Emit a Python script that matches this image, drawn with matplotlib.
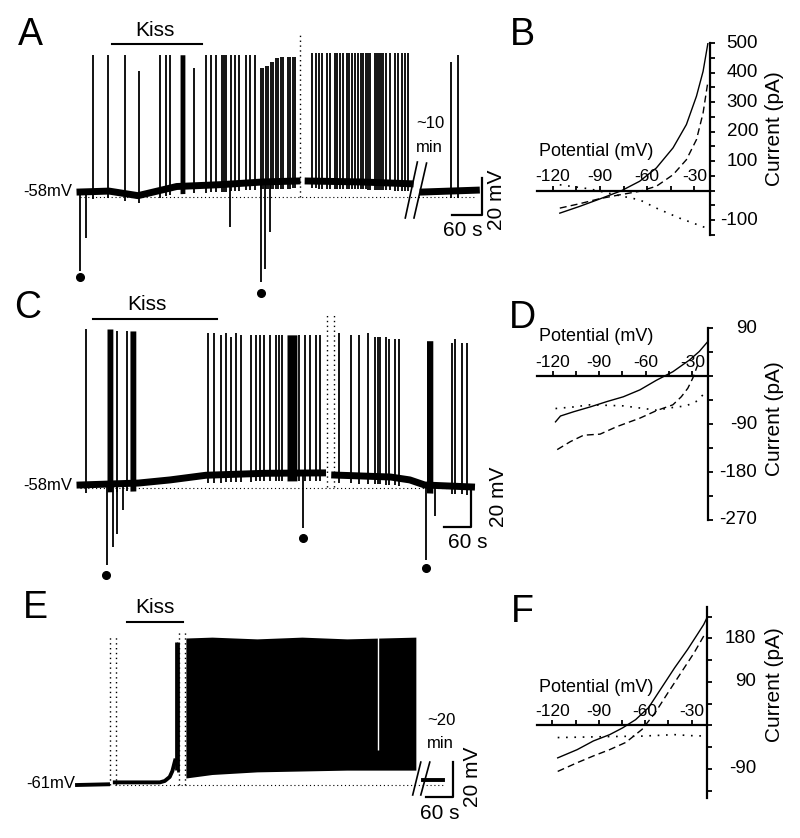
import numpy as np
import matplotlib
matplotlib.use('Agg')
import matplotlib.pyplot as plt
from matplotlib.ticker import MultipleLocator

plt.rcParams['font.family'] = ['Liberation Sans', 'DejaVu Sans']
plt.rcParams['axes.unicode_minus'] = False

# ---------------- trace data (time in s, membrane potential in mV) ----------------
# A
A_base1_t = [0, 60, 120, 200, 290, 380, 449]
A_base1_v = [-58, -57.5, -60, -55, -54, -52.5, -52]
A_base2_t = [472, 580, 683]
A_base2_v = [-52, -52.5, -53.5]
A_base3_t = [710, 820]
A_base3_v = [-58, -57]
A_spike_t = [27, 58, 93, 122, 166, 178, 186, 236, 261, 271, 282, 294, 298, 302, 313, 321,
             329, 344, 352, 362, 375, 379, 385, 389, 395, 400, 406, 410, 416, 420, 431, 435,
             441, 445,
             480, 489, 495, 501, 511, 518, 528, 532, 538, 544, 553, 557, 563, 569, 575, 582,
             586, 592, 596, 600, 611, 615, 619, 623, 627, 633, 642, 652, 658, 667, 673, 679,
             768, 782]
A_spike_v = [17, 17, 17, 8, 17, 17, 17, 10, 17, 17, 17, 17, 17, 17, 17, 17,
             17, 17, 17, 17, 10, 10, 11, 11, 13, 13, 15, 15, 16, 16, 16, 16,
             16, 16,
             18, 18, 18, 18, 18, 18, 18, 18, 18, 18, 18, 18, 18, 18, 18, 18,
             18, 18, 18, 18, 18, 18, 18, 18, 18, 18, 18, 18, 18, 18, 18, 18,
             13, 17]
A_burst_t0 = [207]
A_burst_t1 = [217]
A_burst_v = [17]
A_down_t = [0, 12, 311, 375, 383, 393]
A_down_v = [-101, -83, -77, -107, -100, -80]
A_dot_t = [0, 375]
A_dot_v = [-104.5, -113]
A_kiss = (66, 253)

# C
C_base1_t = [0, 130, 200, 280, 410, 539]
C_base1_v = [-58, -57, -55.4, -53, -52, -51.8]
C_base2_t = [566, 690, 733, 766, 870]
C_base2_v = [-52.9, -53.9, -55.4, -58, -59]
C_spike_t = [13, 82, 104, 284, 297, 313, 324, 335, 346, 357, 380, 391, 400, 408, 422, 435,
             442, 448, 486, 500, 511, 524, 533,
             575, 602, 619, 639, 655, 662, 666, 679, 686, 699, 710,
             826, 833, 848, 859]
C_spike_v = [22, 21, 21, 20, 20, 19, 20, 18, 20, 19, 19, 19, 19, 19, 19, 19,
             19, 19, 19, 19, 19, 19, 19,
             20, 19, 19, 20, 18, 18, 18, 18, 17, 17, 17,
             15, 17, 15, 15]
C_burst_t0 = [60, 111, 460, 770]
C_burst_t1 = [73, 124, 482, 784]
C_burst_v = [22, 21, 19, 16]
C_down_t = [60, 73, 82, 95, 495, 768, 788]
C_down_v = [-99, -90, -83, -71, -80, -96.5, -74]
C_dot_t = [58, 495, 768]
C_dot_v = [-104, -85, -100.5]
C_kiss = (29, 304)

# E
E_base1_t = [0, 69]
E_base1_v = [-61, -60.6]
E_base2_t = [84, 184, 195, 206, 212, 218]
E_base2_v = [-59.5, -59.5, -58.7, -56.4, -53, -47]
E_base4_t = [768, 813]
E_base4_v = [-58, -58]
E_spike_t = [221, 224]
E_spike_v = [20.7, 20.7]
E_block_t = [242, 300, 400, 500, 600, 753]
E_block_low = [-57, -55, -53.5, -53, -52.5, -52.5]
E_block_high = [23, 23.5, 22.5, 23.5, 22.5, 23.5]
E_gap_t = 668
E_kiss = (111, 235)

# ---------------- I-V data (potential mV, current pA) ----------------
B_solid_V = [-115.5, -102.8, -90.1, -76.3, -64.7, -54.1, -43.5, -35, -28.6, -24.4, -21.3]
B_solid_I = [-76, -53, -28, 0, 32, 77, 145, 224, 320, 404, 500]
B_dash_V = [-115.5, -102.8, -90.1, -77.4, -64.7, -54.1, -43.5, -35, -28.6, -24.4, -21.3]
B_dash_I = [-59, -44, -27, -14, -2, 15, 54, 105, 173, 263, 370]
B_dot_V = [-115.5, -96.4, -77.4, -64.7, -54.1, -39.3, -22.4]
B_dot_I = [20, 6, -17, -31, -59, -93, -126]

D_solid_V = [-118.1, -114.9, -106.4, -95.8, -85.1, -74.5, -63.8, -53.2, -42.6, -31.9, -25.6, -20.3]
D_solid_I = [-86, -75, -67, -58, -48, -39, -26, -8, 8, 30, 46, 64]
D_dash_V = [-117, -108.5, -100, -89.4, -78.7, -63.8, -53.2, -42.6, -37.2, -33, -29.8, -26.6]
D_dash_I = [-138, -123, -111, -109, -95, -79, -65, -54, -39, -23, -4, 21]
D_dot_V = [-118.1, -106.4, -95.8, -74.5, -53.2, -42.6, -34.1, -27.7, -22.4]
D_dot_I = [-61, -58, -54, -56, -64, -59, -56, -48, -33]

F_solid_V = [-116.6, -104, -93.5, -83, -74.6, -66.2, -57.8, -49.4, -41, -32.6, -26.3, -22.1, -20]
F_solid_I = [-67, -50, -32, -19, -5, 12, 37, 78, 119, 157, 188, 209, 223]
F_dash_V = [-116.6, -104, -93.5, -83, -72.5, -62, -53.6, -45.2, -36.8, -28.4, -22.1]
F_dash_I = [-95, -77, -63, -50, -35, -8, 26, 68, 109, 150, 185]
F_dot_V = [-116.6, -83, -62, -41, -30.5, -20]
F_dot_I = [-25, -23, -22, -19, -21, -22]

W, H = 800, 838
fig = plt.figure(figsize=(W / 100, H / 100), dpi=100)


def txt(x, y, s, size, **kw):
    fig.text(x / W, 1 - y / H, s, ha=kw.pop('ha', 'center'), va=kw.pop('va', 'center'),
             fontsize=size, **kw)


def trace_axes(box, x0, y0, v0, s_px, px_mv):
    l, t, r, b = box
    ax = fig.add_axes([l / W, 1 - b / H, (r - l) / W, (b - t) / H])
    ax.set_xlim((l - x0) * s_px, (r - x0) * s_px)
    ax.set_ylim(v0 - (b - y0) / px_mv, v0 + (y0 - t) / px_mv)
    ax.axis('off')
    return ax


def draw_spikes(ax, t, peaks, bt, bv, lw=1.3):
    b = np.interp(t, bt, bv)
    ax.vlines(t, b - 4, peaks, color='k', lw=lw)


def draw_bursts(ax, t0, t1, peaks, bt, bv):
    for a, c, p in zip(t0, t1, peaks):
        b = np.interp([a, c], bt, bv)
        ax.fill_between([a, c], b - 4, p, color='k', lw=0)


dotted = (0, (1, 2.5))

# ---------------- A ----------------
ax = trace_axes((60, 20, 520, 300), 80, 192, -58, 60 / 29, 1.83)
allA_t = A_base1_t + A_base2_t + A_base3_t
allA_v = A_base1_v + A_base2_v + A_base3_v
for bt, bv in [(A_base1_t, A_base1_v), (A_base2_t, A_base2_v), (A_base3_t, A_base3_v)]:
    ax.plot(bt, bv, color='k', lw=5)
draw_spikes(ax, A_spike_t, A_spike_v, allA_t, allA_v)
draw_bursts(ax, A_burst_t0, A_burst_t1, A_burst_v, allA_t, allA_v)
ax.vlines(A_down_t, A_down_v, np.interp(A_down_t, allA_t, allA_v), color='k', lw=1.3)
ax.plot(A_dot_t, A_dot_v, 'ko', ms=5.5)
ax.hlines(-60.7, 0, 820, color='k', lw=0.8, linestyles=dotted)
ax.vlines(456, -61, 29, color='k', lw=1, linestyles=dotted)
ax.plot(A_kiss, [23, 23], color='k', lw=1.5)
ax.plot([673, 698], [-72.2, -41.6], color='k', lw=1.2)
ax.plot([691, 717], [-72.2, -42.2], color='k', lw=1.2)
ax.plot([770, 832, 832], [-70.6, -70.6, -50.6], color='k', lw=1.6)

# ---------------- C ----------------
ax = trace_axes((60, 295, 520, 580), 80, 485, -58, 60 / 27, 1.95)
allC_t = C_base1_t + C_base2_t
allC_v = C_base1_v + C_base2_v
for bt, bv in [(C_base1_t, C_base1_v), (C_base2_t, C_base2_v)]:
    ax.plot(bt, bv, color='k', lw=5)
draw_spikes(ax, C_spike_t, C_spike_v, allC_t, allC_v)
draw_bursts(ax, C_burst_t0, C_burst_t1, C_burst_v, allC_t, allC_v)
ax.vlines(C_down_t, C_down_v, np.interp(C_down_t, allC_t, allC_v), color='k', lw=1.3)
ax.plot(C_dot_t, C_dot_v, 'ko', ms=5.5)
ax.hlines(-59.5, 0, 880, color='k', lw=0.8, linestyles=dotted)
ax.vlines([548, 564], -59, 30.7, color='k', lw=1, linestyles=dotted)
ax.plot(C_kiss, [27, 27], color='k', lw=1.5)
ax.plot([810, 870, 870], [-79.5, -79.5, -59.5], color='k', lw=1.6)

# ---------------- E ----------------
ax = trace_axes((60, 600, 520, 830), 77, 785, -61, 60 / 27, 1.75)
allE_t = E_base1_t + E_base2_t + E_block_t + E_base4_t
allE_v = E_base1_v + E_base2_v + E_block_low + E_base4_v
for bt, bv in [(E_base1_t, E_base1_v), (E_base2_t, E_base2_v), (E_base4_t, E_base4_v)]:
    ax.plot(bt, bv, color='k', lw=2.8)
draw_spikes(ax, E_spike_t, E_spike_v, allE_t, allE_v, lw=2)
ax.fill_between(E_block_t, E_block_low, E_block_high, color='k', lw=0)
ax.vlines(E_gap_t, -41, 24, color='w', lw=1)
ax.hlines(-61, 84, 813, color='k', lw=0.8, linestyles=dotted)
ax.vlines([73, 87], -61, 23.6, color='k', lw=1, linestyles=dotted)
ax.vlines([226, 240], -61, 27.6, color='k', lw=1, linestyles=dotted)
ax.plot(E_kiss, [32, 32], color='k', lw=1.5)
ax.plot([746, 764], [-66.7, -47.9], color='k', lw=1.2)
ax.plot([764, 784], [-66.7, -47.9], color='k', lw=1.2)
ax.plot([775, 835, 835], [-67.9, -67.9, -47.9], color='k', lw=1.6)


# ---------------- I-V panels ----------------
def iv_axes(box, ylim, yt, ylab, ystep, label_x):
    l, t, r, b = box
    ax = fig.add_axes([l / W, 1 - b / H, (r - l) / W, (b - t) / H])
    ax.set_xlim(-130, -20)
    ax.set_ylim(*ylim)
    ax.patch.set_visible(False)
    ax.spines['left'].set_visible(False)
    ax.spines['bottom'].set_visible(False)
    ax.spines['top'].set_position(('data', 0))
    for s in ['top', 'right']:
        ax.spines[s].set_linewidth(1.6)
    ax.xaxis.tick_top()
    ax.set_xticks([-120, -90, -60, -30])
    ax.set_xticks([-105, -75, -45], minor=True)
    ax.tick_params(axis='x', which='both', direction='out', length=3.5, width=1.3,
                   labelsize=12.5, pad=1)
    ax.yaxis.tick_right()
    ax.set_yticks(yt)
    ax.set_yticklabels([])
    ax.yaxis.set_minor_locator(MultipleLocator(ystep))
    ax.tick_params(axis='y', which='both', direction='out', length=3.5, width=1.3)
    # numbers right-aligned some way off the axis line
    xr = (label_x - l) / (r - l)
    for v, s in zip(yt, ylab):
        ax.text(xr, v, s, transform=ax.get_yaxis_transform(), ha='right', va='center',
                fontsize=13.5)
    return ax


def iv_curves(ax, sv, si, dv, di, ov, oi):
    ax.plot(sv, si, color='k', lw=1)
    ax.plot(dv, di, color='k', lw=1, ls=(0, (5, 3)))
    ax.plot(ov, oi, color='k', lw=1.2, ls=(0, (1, 4)))


ax = iv_axes((537, 43, 710, 235), (-150, 500), [-100, 0, 100, 200, 300, 400, 500],
             ['-100', '', '100', '200', '300', '400', '500'], 50, 758)
iv_curves(ax, B_solid_V, B_solid_I, B_dash_V, B_dash_I, B_dot_V, B_dot_I)

ax = iv_axes((537, 328, 708, 520), (-270, 90), [-270, -180, -90, 0, 90],
             ['-270', '-180', '-90', '', '90'], 45, 757)
iv_curves(ax, D_solid_V, D_solid_I, D_dash_V, D_dash_I, D_dot_V, D_dot_I)

ax = iv_axes((537, 607, 707, 798), (-150, 245), [-90, 0, 90, 180],
             ['-90', '', '90', '180'], 45, 756)
iv_curves(ax, F_solid_V, F_solid_I, F_dash_V, F_dash_I, F_dot_V, F_dot_I)

# ---------------- texts ----------------
for x, y, s in [(30, 35, 'A'), (28, 308, 'C'), (35, 608, 'E'),
                (522, 35, 'B'), (522, 318, 'D'), (522, 612, 'F')]:
    txt(x, y, s, 27)
for x, y in [(155, 30), (147, 305), (155, 607)]:
    txt(x, y, 'Kiss', 15)
txt(72, 192, '-58mV', 12, ha='right')
txt(72, 485, '-58mV', 12, ha='right')
txt(75, 783, '-61mV', 12, ha='right')
txt(430, 124, '~10', 12)
txt(429, 147, 'min', 12)
txt(441, 720, '~20', 12)
txt(440, 743, 'min', 12)
txt(463, 231, '60 s', 15)
txt(468, 543, '60 s', 15)
txt(440, 813, '60 s', 15)
txt(496, 200, '20 mV', 15, rotation=90)
txt(498, 497, '20 mV', 15, rotation=90)
txt(472, 777, '20 mV', 15, rotation=90)
for y in [152, 336, 688]:
    txt(596, y, 'Potential (mV)', 13)
for y in [129, 419, 685]:
    txt(774, y, 'Current (pA)', 15, rotation=90)

fig.savefig('out.png', dpi=100)
